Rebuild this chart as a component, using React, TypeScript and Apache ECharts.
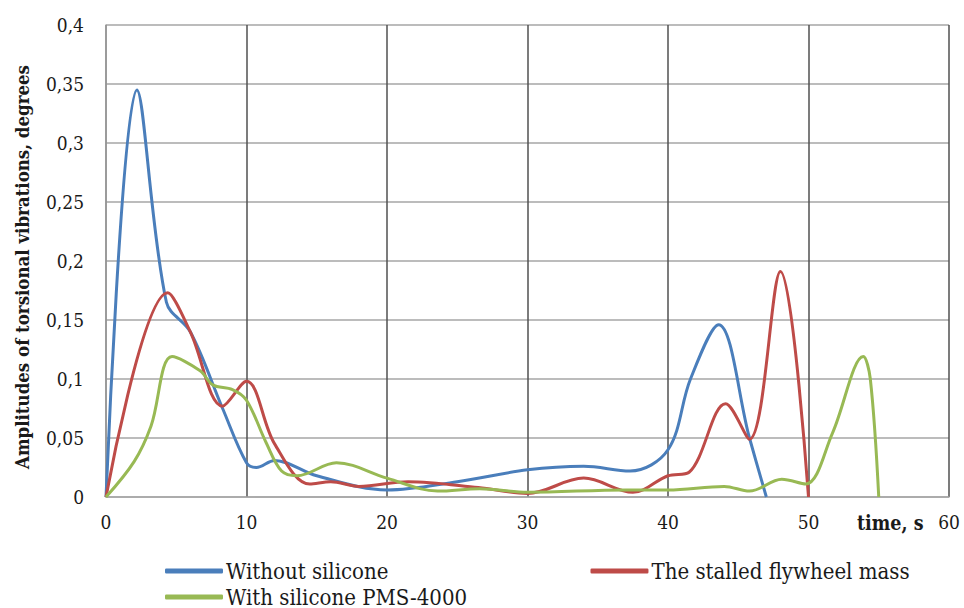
import React, { useEffect, useRef } from "react";
import * as echarts from "echarts";

const seriesNames = ["Without silicone", "The stalled flywheel mass", "With silicone PMS-4000"];
const seriesColors = ["#4A7EBB", "#BE4B48", "#98B954"];

const withoutSiliconeT = [0, 2.2, 4.3, 6, 8.3, 10, 10.7, 12, 15, 20, 25, 30, 34, 37.3, 40, 41.6, 43.6, 45.8, 47];
const withoutSiliconeA = [0, 0.345, 0.165, 0.14, 0.075, 0.029, 0.025, 0.031, 0.018, 0.006, 0.013, 0.023, 0.026, 0.022, 0.04, 0.1, 0.146, 0.05, 0];

const stalledT = [0, 4.4, 6, 8.3, 10, 12, 14.5, 16, 18, 21.5, 26.5, 30, 34, 37.5, 40, 41.5, 44.1, 45.8, 48, 50];
const stalledA = [0, 0.173, 0.14, 0.077, 0.098, 0.045, 0.011, 0.013, 0.009, 0.013, 0.008, 0.003, 0.016, 0.004, 0.018, 0.021, 0.079, 0.049, 0.191, 0];

const siliconeT = [0, 2, 3.2, 4.7, 6.7, 7.6, 9, 10, 11.4, 12.5, 13.6, 16.4, 20, 23.6, 26.6, 30, 37, 40, 44, 45.8, 48.1, 49.8, 51.7, 53.9, 54.4, 55];
const siliconeA = [0, 0.03, 0.06, 0.119, 0.107, 0.095, 0.091, 0.082, 0.046, 0.022, 0.018, 0.029, 0.016, 0.005, 0.007, 0.004, 0.006, 0.006, 0.009, 0.005, 0.015, 0.011, 0.054, 0.119, 0.1, 0];

const xTicks = [0, 10, 20, 30, 40, 50, 60];
const yTicks = [0, 0.05, 0.1, 0.15, 0.2, 0.25, 0.3, 0.35, 0.4];

const FONT_COND = "DejaVu Serif Condensed";

function pairs(t: number[], a: number[]) {
  return t.map((v, i) => [v, a[i]]);
}

export default function App() {
  const ref = useRef<HTMLDivElement>(null);
  useEffect(() => {
    if (!ref.current) return;
    const chart = echarts.init(ref.current, null, { renderer: "svg" });
    const data = [pairs(withoutSiliconeT, withoutSiliconeA), pairs(stalledT, stalledA), pairs(siliconeT, siliconeA)];
    chart.setOption({
      animation: false,
      backgroundColor: "#ffffff",
      grid: { left: 106, right: 15, top: 25, bottom: 111, containLabel: false },
      xAxis: {
        type: "value",
        min: xTicks[0],
        max: xTicks[xTicks.length - 1],
        interval: 10,
        axisLine: { show: true, lineStyle: { color: "#A6A6A6", width: 1.5 } },
        axisTick: { show: false },
        axisLabel: { margin: 15, fontFamily: FONT_COND, fontSize: 19, color: "#1a1a1a" },
        splitLine: { show: true, lineStyle: { color: "#505050", width: 1.5 } },
      },
      yAxis: {
        type: "value",
        min: yTicks[0],
        max: yTicks[yTicks.length - 1],
        interval: 0.05,
        axisLine: { show: true, lineStyle: { color: "#A6A6A6", width: 1.5 } },
        axisTick: { show: false },
        axisLabel: {
          margin: 22,
          fontFamily: FONT_COND,
          fontSize: 19,
          color: "#1a1a1a",
          formatter: (v: number) => (v === 0 ? "0" : String(parseFloat(v.toFixed(2))).replace(".", ",")),
        },
        splitLine: { show: true, lineStyle: { color: "#A6A6A6", width: 1.5 } },
      },
      legend: [
        {
          data: [seriesNames[0], seriesNames[1]],
          left: 160,
          top: 555,
          icon: "roundRect",
          itemWidth: 58,
          itemHeight: 5,
          itemGap: 202,
          textStyle: { fontFamily: FONT_COND, fontSize: 22, color: "#1a1a1a", padding: [0, 0, 0, -2] },
        },
        {
          data: [seriesNames[2]],
          left: 160,
          top: 581,
          icon: "roundRect",
          itemWidth: 58,
          itemHeight: 5,
          textStyle: { fontFamily: FONT_COND, fontSize: 22, color: "#1a1a1a", padding: [0, 0, 0, -2] },
        },
      ],
      graphic: [
        {
          type: "text",
          x: 22,
          y: 267,
          rotation: Math.PI / 2,
          style: {
            text: "Amplitudes of torsional vibrations, degrees",
            font: `bold 18.5px ${FONT_COND}`,
            fill: "#1a1a1a",
            textAlign: "center",
            textVerticalAlign: "middle",
          },
        },
        {
          type: "text",
          x: 857,
          y: 513,
          style: { text: "time, s", font: `bold 19.5px ${FONT_COND}`, fill: "#1a1a1a" },
        },
      ],
      series: seriesNames.map((name, i) => ({
        name,
        type: "line",
        data: data[i],
        smooth: 0.35,
        showSymbol: false,
        symbol: "none",
        lineStyle: { color: seriesColors[i], width: 3 },
        itemStyle: { color: seriesColors[i] },
      })),
    });
    return () => chart.dispose();
  }, []);
  return <div ref={ref} style={{ width: 964, height: 608, position: "absolute", left: 0, top: 0 }} />;
}
